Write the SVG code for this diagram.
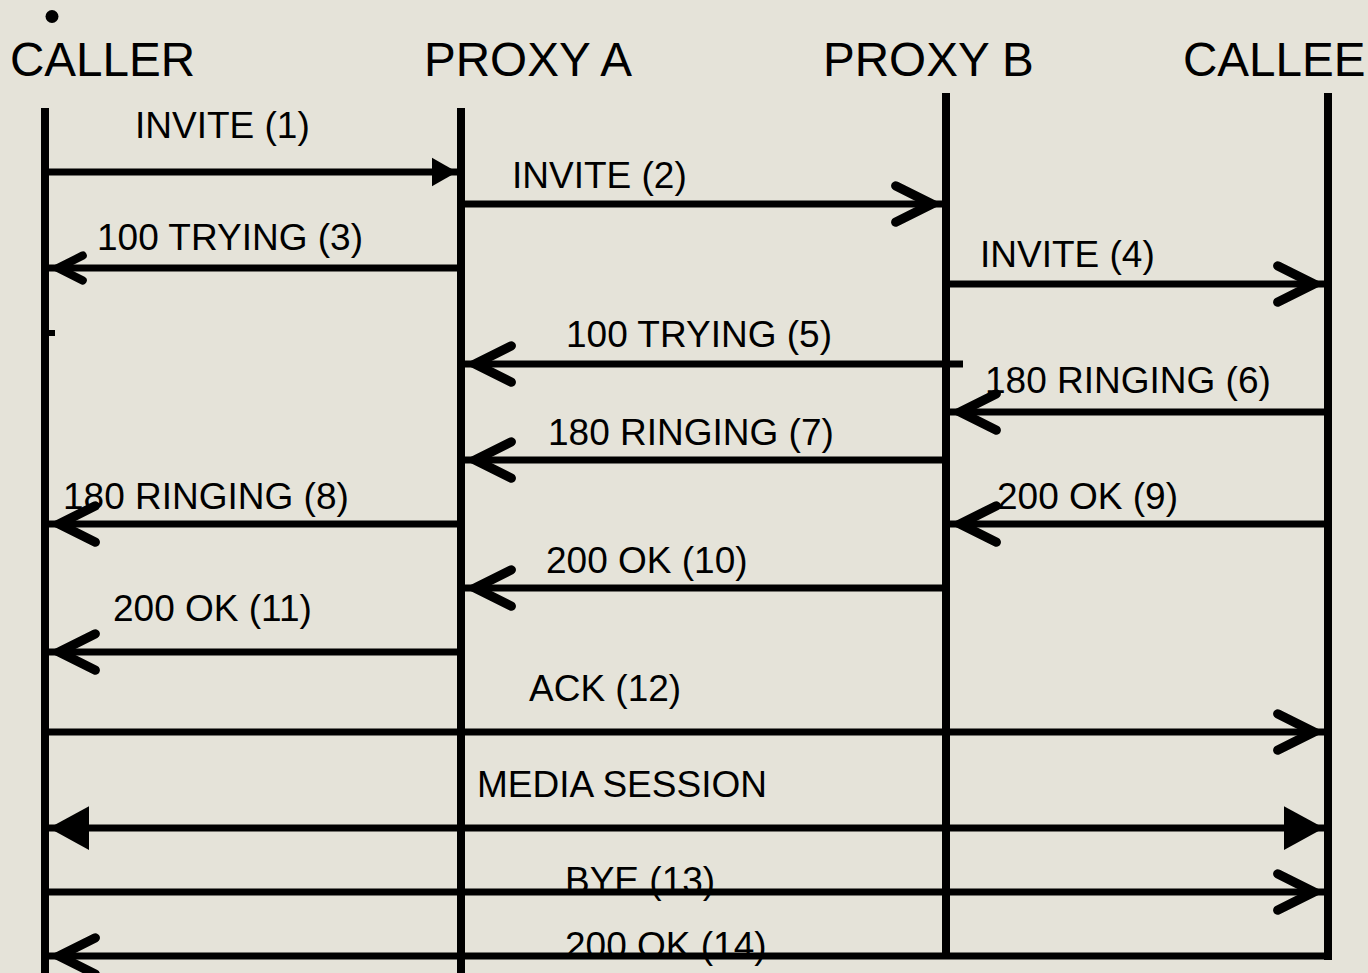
<svg xmlns="http://www.w3.org/2000/svg" width="1368" height="973" viewBox="0 0 1368 973">
<style>
.hdr{font-family:"Liberation Sans",Arial,sans-serif;font-size:47.6px;fill:#000}
.lbl{font-family:"Liberation Sans",Arial,sans-serif;font-size:37px;fill:#000}
.life{stroke:#000;stroke-width:8;fill:none}
.msg{stroke:#000;stroke-width:7;fill:none}
</style>
<defs>
<marker id="chev" markerUnits="userSpaceOnUse" orient="auto" refX="0" refY="0" markerWidth="60" markerHeight="60" viewBox="-40 -20 48 40" overflow="visible">
<path d="M-37,-14.5 L-8,0 L-37,14.5" fill="none" stroke="#000" stroke-width="7.5" stroke-linecap="round" stroke-linejoin="miter"/>
</marker>
<marker id="chevS" markerUnits="userSpaceOnUse" orient="auto" refX="0" refY="0" markerWidth="60" markerHeight="60" viewBox="-40 -20 48 40" overflow="visible">
<path d="M-27,-10 L-7,0 L-27,10" fill="none" stroke="#000" stroke-width="6.5" stroke-linecap="round" stroke-linejoin="miter"/>
</marker>
<marker id="tri" markerUnits="userSpaceOnUse" orient="auto" refX="0" refY="0" markerWidth="40" markerHeight="40" viewBox="-20 -12 24 24" overflow="visible">
<path d="M0,0 L-15,-8.5 L-15,8.5 Z" fill="#000"/>
</marker>
<marker id="triBig" markerUnits="userSpaceOnUse" orient="auto-start-reverse" refX="0" refY="0" markerWidth="60" markerHeight="60" viewBox="-40 -20 48 40" overflow="visible">
<path d="M0,0 L-32,-17.5 L-32,17.5 Z" fill="#000"/>
</marker>
</defs>
<rect x="0" y="0" width="1368" height="973" fill="#e5e3d9"/>
<circle cx="52" cy="16.5" r="6.5" fill="#000"/>
<g id="caller">
<text class="hdr" x="10" y="76">CALLER</text>
<line class="life" x1="45" y1="108" x2="45" y2="973"/>
<rect x="49" y="330" width="6" height="6" fill="#000"/>
</g>
<g id="proxyA">
<text class="hdr" x="424" y="76">PROXY A</text>
<line class="life" x1="461" y1="108" x2="461" y2="973"/>
</g>
<g id="proxyB">
<text class="hdr" x="823" y="76">PROXY B</text>
<line class="life" x1="946" y1="93" x2="946" y2="953"/>
</g>
<g id="callee">
<text class="hdr" x="1183" y="76">CALLEE</text>
<line class="life" x1="1328" y1="93" x2="1328" y2="960"/>
</g>
<g id="connectors">
<text class="lbl" x="135" y="138">INVITE (1)</text>
<text class="lbl" x="512" y="188">INVITE (2)</text>
<text class="lbl" x="97" y="250">100 TRYING (3)</text>
<text class="lbl" x="980" y="267">INVITE (4)</text>
<text class="lbl" x="566" y="347">100 TRYING (5)</text>
<text class="lbl" x="985" y="393">180 RINGING (6)</text>
<text class="lbl" x="548" y="445">180 RINGING (7)</text>
<text class="lbl" x="63" y="509">180 RINGING (8)</text>
<text class="lbl" x="997" y="509">200 OK (9)</text>
<text class="lbl" x="546" y="573">200 OK (10)</text>
<text class="lbl" x="113" y="621">200 OK (11)</text>
<text class="lbl" x="529" y="701">ACK (12)</text>
<text class="lbl" x="477" y="797">MEDIA SESSION</text>
<text class="lbl" x="565" y="893">BYE (13)</text>
<text class="lbl" x="565" y="958">200 OK (14)</text>
<line class="msg" stroke-width="6" x1="49" y1="172" x2="457" y2="172" marker-end="url(#tri)"/>
<line class="msg" x1="465" y1="204" x2="942" y2="204" marker-end="url(#chev)"/>
<line class="msg" stroke-width="6.5" x1="457" y1="268" x2="49" y2="268" marker-end="url(#chevS)"/>
<line class="msg" x1="950" y1="284" x2="1324" y2="284" marker-end="url(#chev)"/>
<line class="msg" x1="963" y1="364" x2="465" y2="364" marker-end="url(#chev)"/>
<line class="msg" x1="1324" y1="412" x2="950" y2="412" marker-end="url(#chev)"/>
<line class="msg" x1="942" y1="460" x2="465" y2="460" marker-end="url(#chev)"/>
<line class="msg" x1="457" y1="524" x2="49" y2="524" marker-end="url(#chev)"/>
<line class="msg" x1="1324" y1="524" x2="950" y2="524" marker-end="url(#chev)"/>
<line class="msg" x1="942" y1="588" x2="465" y2="588" marker-end="url(#chev)"/>
<line class="msg" x1="457" y1="652" x2="49" y2="652" marker-end="url(#chev)"/>
<line class="msg" x1="49" y1="732" x2="1324" y2="732" marker-end="url(#chev)"/>
<line class="msg" stroke-width="11" x1="49" y1="828" x2="1324" y2="828" marker-start="url(#triBig)" marker-end="url(#triBig)"/>
<line class="msg" x1="49" y1="892" x2="1324" y2="892" marker-end="url(#chev)"/>
<line class="msg" x1="1332" y1="956" x2="49" y2="956" marker-end="url(#chev)"/>
</g>
</svg>
